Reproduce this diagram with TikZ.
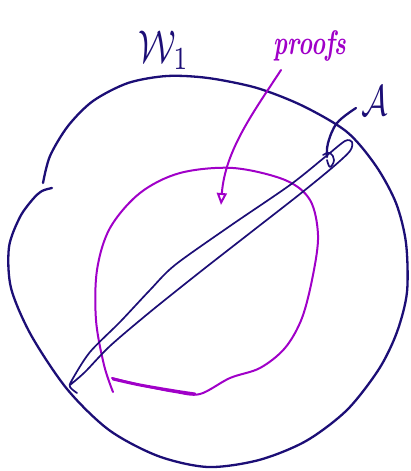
\documentclass[tikz,border=0pt]{standalone}
\usepackage{graphicx}
\usetikzlibrary{arrows.meta}
\definecolor{navy}{RGB}{28,14,118}
\definecolor{violet}{RGB}{160,0,200}
\begin{document}
\begin{tikzpicture}[x=1pt,y=-1pt,line cap=round,line join=round,
  navyline/.style={draw=navy,line width=2.3pt},
  thinnavy/.style={draw=navy,line width=1.7pt},
  purpleline/.style={draw=violet,line width=2pt},
  lbl/.style={inner sep=0pt}]
\useasboundingbox (0,0) rectangle (410,471);
% big outer region
\draw[navyline] plot[smooth,tension=0.5] coordinates {(43,183) (50,156) (68,126) (93,101) (128,83) (167,76) (208,78) (257,88) (303,106) (347,132) (376,166) (396,203) (406,243) (407,292) (397,332) (379,369) (347,410) (306,441) (259,460) (208,467) (158,456) (109,430) (67,389) (31,335) (11,288) (9,247) (20,217) (33,199) (42,191) (52,188)};
% purple blob
\draw[purpleline] plot[smooth,tension=0.55] coordinates {(113,392) (104,365) (96,320) (97,270) (110,228) (140,193) (180,173) (233,168) (285,180) (310,200) (318,235) (313,275) (302,318) (285,348) (260,368) (230,378) (200,394) (175,392) (140,385) (112,378)};
\draw[draw=violet,line width=3pt] plot[smooth,tension=0.5] coordinates {(113,379) (140,385) (175,391) (195,394)};
% sliver A
\draw[thinnavy] plot[smooth,tension=0.5] coordinates {(77,393) (70,387) (72,380) (90,352) (120,322) (150,290) (175,265) (230,226) (290,185) (325,157) (345,141) (352,142) (350,151) (333,167) (300,194) (250,233) (200,272) (150,312) (110,346) (85,372) (70,385)};
% leader from A
\draw[navyline] plot[smooth,tension=0.6] coordinates {(356,108) (337,123) (328,143) (327,157)};
\draw[thinnavy] plot[smooth,tension=0.7] coordinates {(323,155) (330,153) (334,160) (330,167) (327,160)};
% label nodes
\node[lbl,text=navy] (W) at (164,50) {\scalebox{3.5}[4.6]{$\mathcal{W}_{1}$}};
\node[lbl,text=navy] (A) at (375,101) {\scalebox{3.3}[4.3]{$\mathcal{A}$}};
\node[lbl,text=violet] (P) at (310,46) {\scalebox{2.4}[3.4]{\bfseries\itshape proofs}};
\coordinate (tip) at (221,205);
% purple arrow
\draw[purpleline,-{Triangle[open,length=12pt,width=10pt]}] (281,70) .. controls (255,110) and (225,150) .. (tip);
\end{tikzpicture}
\end{document}
